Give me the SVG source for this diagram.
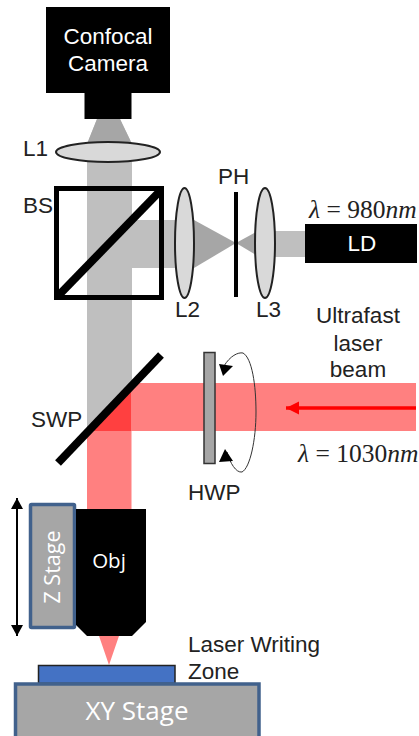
<svg xmlns="http://www.w3.org/2000/svg" width="419" height="736" viewBox="0 0 419 736">
<style>
text{font-family:"Liberation Sans",Arial,sans-serif;font-size:22.5px;fill:#222}
.m{text-anchor:middle}
.w{fill:#fff}
.o{font-family:"Open Sans",sans-serif;fill:#fff;text-anchor:middle}
.math{font-family:"Liberation Serif",serif;font-size:25.5px}
.i{font-style:italic}
.lens{fill:#d9d9d9;stroke:#222;stroke-width:2}
.stage{fill:#a6a6a6;stroke:#41618c;stroke-width:3.5}
</style>
<defs>
<marker id="bh" markerUnits="userSpaceOnUse" markerWidth="12" markerHeight="12" refX="11" refY="6" orient="auto-start-reverse"><path d="M0 0L11 6L0 12Z" fill="#000"/></marker>
<marker id="rh" markerUnits="userSpaceOnUse" markerWidth="14" markerHeight="14" refX="13" refY="7" orient="auto"><path d="M0 0.5L13 7L0 13.5Z" fill="#f00"/></marker>
</defs>
<g id="beams">
<path d="M97 119H120L132 144V386L87 431V144Z" fill="#bfbfbf"/>
<path d="M97 119H120L132 144H87Z" fill="#a6a6a6"/>
<rect x="87" y="220" width="90" height="48" fill="#bfbfbf"/>
<path d="M194 220L236 243L194 268Z" fill="#a6a6a6"/>
<path d="M236 243L256 232V255Z" fill="#a6a6a6"/>
<rect x="275" y="231" width="31" height="26" fill="#bfbfbf"/>
<path d="M131.500 383H416V431H131.500Z" fill="#ff8080"/>
<path d="M87 431H131.500V509H87Z" fill="#ff8080"/>
<path d="M87 431H131.500V386Z" fill="#ff4040"/>
<path d="M99 636H119L109 665Z" fill="#ff8080"/>
</g>
<g id="connectors" fill="none">
<path d="M416 408H286" stroke="#f00" stroke-width="3.500" marker-end="url(#rh)"/>
<path d="M17 498V636" stroke="#000" stroke-width="2" marker-start="url(#bh)" marker-end="url(#bh)"/>
<path d="M224 366C230 356 238 352 243 353C252 358 256 385 256 412C256 440 250 468 242 472C236 473 230 463 227 452" stroke="#333" stroke-width="1"/>
<path d="M223 376L219 364L233 366Z" fill="#000"/>
<path d="M225 449L233 461L219 462Z" fill="#000"/>
</g>
<g id="camera">
<rect x="46" y="7" width="124" height="86" fill="#000"/>
<rect x="84.500" y="93" width="47" height="26" fill="#000"/>
<text class="m w" x="108" y="44">Confocal</text>
<text class="m w" x="108" y="71">Camera</text>
</g>
<g id="l1"><ellipse class="lens" cx="108" cy="152" rx="52" ry="10"/><text x="23" y="156">L1</text></g>
<g id="bs">
<rect x="56.500" y="188.500" width="105" height="109" fill="none" stroke="#000" stroke-width="5"/>
<path d="M57 297L161 190" stroke="#000" stroke-width="8"/>
<text x="23" y="213">BS</text>
</g>
<g id="l2"><ellipse class="lens" cx="184.500" cy="243" rx="9.500" ry="55"/><text x="175" y="317">L2</text></g>
<g id="ph"><rect x="234" y="192" width="4" height="105" fill="#000"/><text x="218" y="184">PH</text></g>
<g id="l3"><ellipse class="lens" cx="265" cy="243" rx="10" ry="55"/><text x="256" y="317">L3</text></g>
<g id="ld">
<rect x="305" y="224" width="112" height="39" fill="#000"/>
<text class="m w" x="362" y="251">LD</text>
<text class="math" x="309" y="218"><tspan class="i">λ</tspan> = 980<tspan class="i">nm</tspan></text>
</g>
<g id="swp"><path d="M58 463L161 355" stroke="#000" stroke-width="8"/><text x="31" y="427">SWP</text></g>
<g id="hwp"><rect x="204" y="352.500" width="11" height="111" fill="#a6a6a6" stroke="#333" stroke-width="1.500"/><text x="188" y="500">HWP</text></g>
<g id="laser">
<text class="m" x="358" y="323">Ultrafast</text>
<text class="m" x="358" y="351">laser</text>
<text class="m" x="358" y="377">beam</text>
<text class="math" x="298" y="462"><tspan class="i">λ</tspan> = 1030<tspan class="i">nm</tspan></text>
</g>
<g id="zstage">
<rect class="stage" x="30.500" y="504.500" width="44" height="123" rx="1"/>
<text class="o" transform="translate(60 567) rotate(-90)" style="font-size:21.500px">Z Stage</text>
</g>
<g id="obj">
<path d="M76 509H146V622L132 636H87L76 625Z" fill="#000"/>
<text class="o" x="109" y="568" style="font-size:20.500px">Obj</text>
</g>
<g id="sample">
<rect x="38.500" y="665.500" width="136.500" height="18" fill="#4472c4" stroke="#222" stroke-width="1.500"/>
<text x="188" y="652">Laser Writing</text>
<text x="188" y="678.500">Zone</text>
</g>
<g id="xystage">
<rect class="stage" x="15.500" y="684" width="243.500" height="60"/>
<text class="o" x="137" y="720" style="font-size:26px">XY Stage</text>
</g>
</svg>
